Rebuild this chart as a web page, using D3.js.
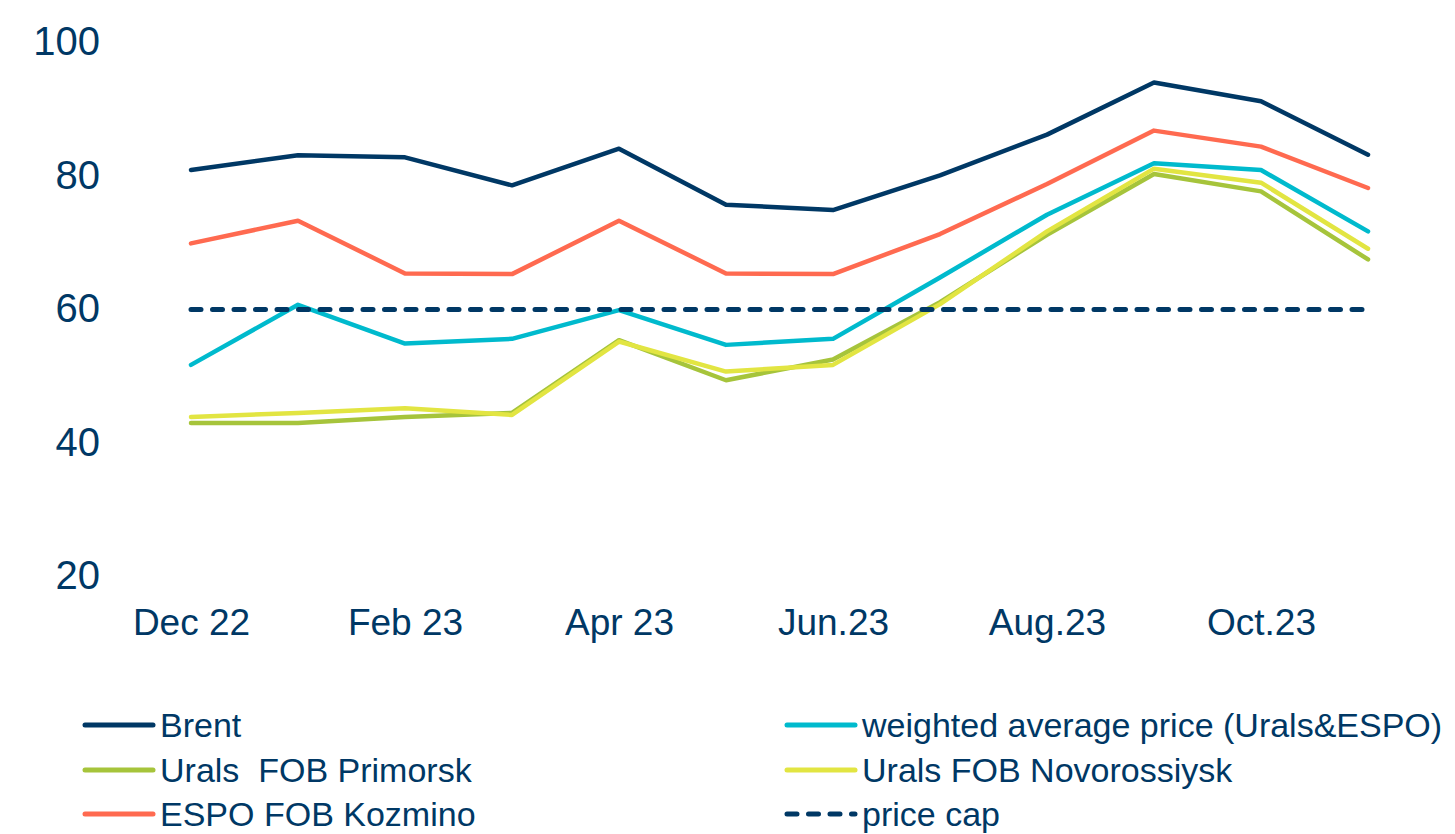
<!DOCTYPE html>
<html>
<head>
<meta charset="utf-8">
<script src="https://cdn.jsdelivr.net/npm/d3@7"></script>
<style>
  body { margin: 0; background: #fff; }
  svg text { font-family: "Liberation Sans", Arial, sans-serif; fill: #003865; }
</style>
</head>
<body>
<div id="okvir"></div>
<script>
// podaci
const mjeseci = ["Dec 22", "Jan 23", "Feb 23", "Mar 23", "Apr 23", "May 23",
  "Jun 23", "Jul 23", "Aug 23", "Sep 23", "Oct 23", "Nov 23"]
const oznakeX = {"Dec 22": "Dec 22", "Feb 23": "Feb 23", "Apr 23": "Apr 23",
  "Jun 23": "Jun.23", "Aug 23": "Aug.23", "Oct 23": "Oct.23"}
const yTickovi = [20, 40, 60, 80, 100]

const brent = [80.9, 83.1, 82.8, 78.6, 84.1, 75.7, 74.9, 80.1, 86.2, 94.0, 91.2, 83.2]
const weighted = [51.7, 60.7, 54.9, 55.6, 59.9, 54.7, 55.6, 64.8, 74.2, 81.9, 80.9, 71.7]
const primorsk = [43.0, 43.0, 43.9, 44.5, 55.4, 49.4, 52.5, 61.1, 71.2, 80.3, 77.7, 67.5]
const novorossiysk = [43.9, 44.5, 45.2, 44.2, 55.2, 50.7, 51.7, 60.8, 71.7, 81.1, 79.0, 69.1]
const espo = [69.9, 73.3, 65.4, 65.3, 73.3, 65.4, 65.3, 71.3, 78.8, 86.8, 84.4, 78.2]
const priceCap = [60, 60, 60, 60, 60, 60, 60, 60, 60, 60, 60, 60]

const serije = [
  {ime: "Brent", vrijednosti: brent, boja: "#003865", dash: null},
  {ime: "weighted average price (Urals&ESPO)", vrijednosti: weighted, boja: "#00BACD", dash: null},
  {ime: "Urals  FOB Primorsk", vrijednosti: primorsk, boja: "#A6C43B", dash: null},
  {ime: "Urals FOB Novorossiysk", vrijednosti: novorossiysk, boja: "#E2E542", dash: null},
  {ime: "ESPO FOB Kozmino", vrijednosti: espo, boja: "#FF6A50", dash: null},
  {ime: "price cap", vrijednosti: priceCap, boja: "#003865", dash: "10,11.5"},
]

// dimenzije
const dimenzije = { sirina: 1455, visina: 834 }

const okvir = d3.select("#okvir")
  .append("svg")
    .attr("width", dimenzije.sirina)
    .attr("height", dimenzije.visina)

// razmjeri
const xSkala = d3.scalePoint()
  .domain(mjeseci)
  .range([191, 1368])

const ySkala = d3.scaleLinear()
  .domain([20, 100])
  .range([576.5, 42.5])

// osi
const yOs = okvir.append("g")
    .attr("transform", "translate(100,0)")
  .call(d3.axisLeft(ySkala).tickValues(yTickovi).tickSize(0).tickPadding(0))
yOs.select(".domain").remove()
yOs.selectAll("text")
    .style("font-size", "40px")
    .attr("dy", "0.31em")

const xOs = okvir.append("g")
    .attr("transform", "translate(0,608)")
  .call(d3.axisBottom(xSkala)
    .tickValues(Object.keys(oznakeX))
    .tickFormat(d => oznakeX[d])
    .tickSize(0).tickPadding(0))
xOs.select(".domain").remove()
xOs.selectAll("text")
    .style("font-size", "37px")
    .attr("dy", "0.72em")

// linije
const generatorLinije = d3.line()
  .x((d, i) => xSkala(mjeseci[i]))
  .y(d => ySkala(d))

okvir.append("g").selectAll("path")
  .data(serije)
  .join("path")
    .attr("d", d => generatorLinije(d.vrijednosti))
    .attr("fill", "none")
    .attr("stroke", d => d.boja)
    .attr("stroke-width", d => d.dash ? 5 : 4.5)
    .attr("stroke-dasharray", d => d.dash)
    .attr("stroke-linecap", "round")
    .attr("stroke-linejoin", "round")

// legenda
const legenda = okvir.append("g")
const stupciX = [83, 785]
const redoviY = [725, 770, 814]

const stavke = legenda.selectAll("g")
  .data(serije)
  .join("g")
    .attr("transform", (d, i) => `translate(${stupciX[i % 2]},${redoviY[Math.floor(i / 2)]})`)

stavke.append("line")
    .attr("x1", 2).attr("x2", 70)
    .attr("stroke", d => d.boja)
    .attr("stroke-width", 5)
    .attr("stroke-linecap", "round")
    .attr("stroke-dasharray", d => d.dash)

stavke.append("text")
    .attr("x", 77)
    .attr("y", 12)
    .style("font-size", "34px")
    .style("white-space", "pre")
    .text(d => d.ime)
</script>
</body>
</html>
